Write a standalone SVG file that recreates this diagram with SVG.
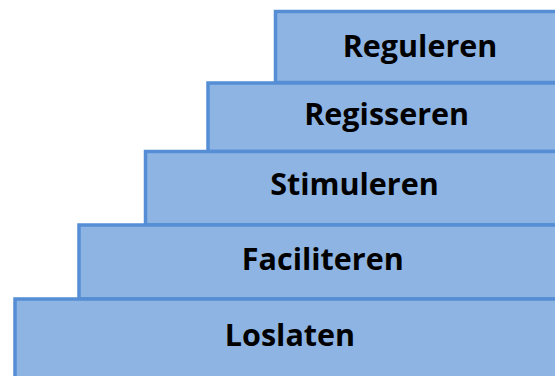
<svg xmlns="http://www.w3.org/2000/svg" width="555" height="376" viewBox="0 0 555 376">
<style>
.step rect{fill:#8EB4E3;stroke:#558ED5;stroke-width:3.5}
.step text{font-family:"Open Sans","Liberation Sans",sans-serif;font-weight:bold;font-size:30.5px;fill:#000;text-anchor:middle}
</style>
<rect width="555" height="376" fill="#fff"/>
<g id="reguleren" class="step"><rect x="275.5" y="11.5" width="300" height="71"/><text x="420" y="57">Reguleren</text></g>
<g id="regisseren" class="step"><rect x="208" y="83" width="370" height="68.5"/><text x="386.7" y="125">Regisseren</text></g>
<g id="stimuleren" class="step"><rect x="145.5" y="151.5" width="430" height="73.5"/><text x="354.5" y="195">Stimuleren</text></g>
<g id="faciliteren" class="step"><rect x="79" y="225" width="500" height="74"/><text x="322.8" y="270">Faciliteren</text></g>
<g id="loslaten" class="step"><rect x="15" y="299" width="560" height="90"/><text x="290" y="345.5">Loslaten</text></g>
</svg>
